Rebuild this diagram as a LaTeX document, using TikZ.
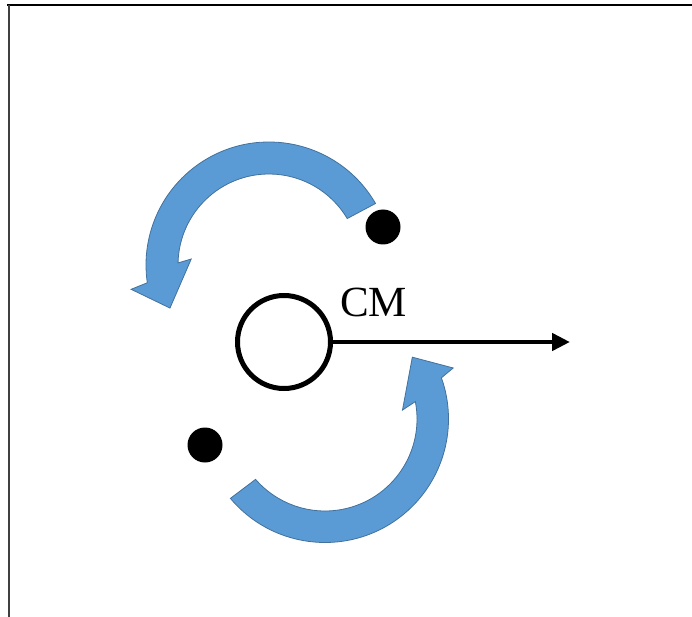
\documentclass[tikz,border=0pt]{standalone}
\usepackage{fontspec}
\setmainfont{Liberation Serif}
\usetikzlibrary{arrows.meta}
\definecolor{arcblue}{RGB}{91,155,213}
\definecolor{arcedge}{RGB}{65,113,156}
\tikzset{
  bluearrow/.style={fill=arcblue, draw=arcedge, line width=0.8pt, line join=miter},
  cmcircle/.style={circle, draw=black, line width=5pt, minimum size=93pt, inner sep=0pt, fill=white},
  mass/.style={circle, fill=black, minimum size=35pt, inner sep=0pt},
  frameline/.style={line width=1.3pt, draw=black}
}
\begin{document}
\begin{tikzpicture}[x=1pt, y=-1pt]
\useasboundingbox (0,0) rectangle (692,617);
% frame
\draw[frameline] (7,5) -- (692,5);
\draw[line width=2pt, draw=black!75] (8.5,5) -- (8.5,617);
% top curved arrow
\begin{scope}[shift={(269,265)}, yscale=-1]
  \path[bluearrow] (30:123) arc[start angle=30, end angle=188.3, radius=123]
    -- (190:140) -- (203.5:108) -- (175.6:78) -- (178.7:91)
    arc[start angle=178.7, end angle=30.7, radius=91] -- cycle;
\end{scope}
% bottom curved arrow
\begin{scope}[shift={(325,419)}, yscale=-1]
  \path[bluearrow] (220:123.5) arc[start angle=220, end angle=379.5, radius=123.5]
    -- (381.7:138) -- (395.3:107) -- (366.6:78) -- (370.9:92)
    arc[start angle=370.9, end angle=221, radius=92] -- cycle;
\end{scope}
% masses
\node[mass] (m1) at (383,227) {};
\node[mass] (m2) at (205,445) {};
% centre of mass
\node[cmcircle] (cm) at (284,342) {};
\node[anchor=base west, inner sep=0pt, font=\fontsize{43}{43}\selectfont] (label) at (340,316) {CM};
\coordinate (tip) at (570,342);
\draw[line width=4.5pt, -{Triangle[length=18pt,width=17pt]}] (cm.east) -- (tip);
\end{tikzpicture}
\end{document}
